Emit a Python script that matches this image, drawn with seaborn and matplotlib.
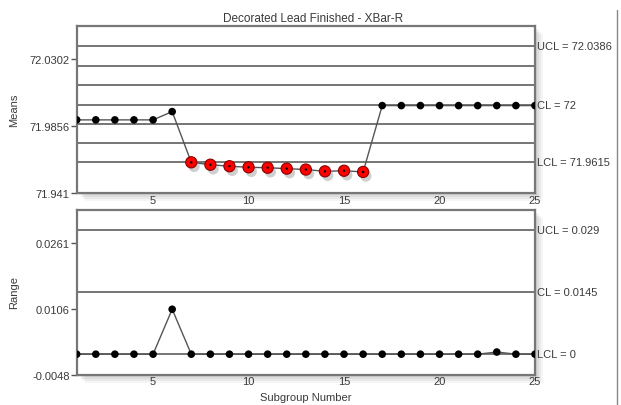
import matplotlib
matplotlib.use("Agg")
import matplotlib.pyplot as plt
import matplotlib.patheffects as pe
from matplotlib.lines import Line2D
from matplotlib.patches import Rectangle
import pandas as pd
import seaborn as sns

# subgroup means / ranges
subgroups = list(range(1, 26))
means = [71.9898, 71.9898, 71.9898, 71.9898, 71.9898, 71.9953,
         71.9616, 71.9600, 71.9590, 71.9583, 71.9580, 71.9574, 71.9568,
         71.9556, 71.9560, 71.9552,
         71.9993, 71.9993, 71.9993, 71.9993, 71.9993, 71.9993, 71.9993,
         71.9993, 71.9993]
ranges = [0.0, 0.0, 0.0, 0.0, 0.0, 0.0105, 0.0, 0.0, 0.0, 0.0, 0.0, 0.0,
          0.0, 0.0, 0.0, 0.0, 0.0, 0.0, 0.0, 0.0, 0.0, 0.0, 0.0005, 0.0, 0.0]
flagged = [False] * 6 + [True] * 10 + [False] * 9

# control / zone lines
means_lines = [72.0386, 72.0257, 72.0129, 72.0, 71.9871, 71.9743, 71.9615]
means_limit_vals = [72.0386, 72.0, 71.9615]
means_limit_labels = ["UCL = 72.0386", "CL = 72", "LCL = 71.9615"]
range_lines = [0.029, 0.0145, 0.0]
range_limit_labels = ["UCL = 0.029", "CL = 0.0145", "LCL = 0"]

means_ticks = [71.941, 71.9856, 72.0302]
means_ticklabels = ["71.941", "71.9856", "72.0302"]
range_ticks = [-0.0048, 0.0106, 0.0261]
range_ticklabels = ["-0.0048", "0.0106", "0.0261"]
x_ticks = [5, 10, 15, 20, 25]

sns.set_style("white")
plt.rcParams["font.family"] = ["Liberation Sans", "DejaVu Sans"]
TXT = "#3a3a3a"

df = pd.DataFrame({"subgroup": subgroups, "mean": means,
                   "range": ranges, "flag": flagged})

fig = plt.figure(figsize=(6.21, 4.06), dpi=100)
pos_top = [0.1235, 0.5214, 0.738, 0.4114]
pos_bot = [0.1235, 0.0746, 0.738, 0.4057]

# soft drop shadows behind the plot areas
for l, b, w, h in (pos_top, pos_bot):
    for k, a in ((8, 0.08), (6, 0.10), (4, 0.12), (2, 0.15)):
        dx, dy = k / 621, k / 406
        fig.patches.append(Rectangle((l + dx, b - dy), w, h, transform=fig.transFigure,
                                     facecolor="#808080", alpha=a, edgecolor="none", zorder=-5))

ax1 = fig.add_axes(pos_top)
ax2 = fig.add_axes(pos_bot)


def style_axes(ax, ylim, ticks, ticklabels):
    ax.set_facecolor("white")
    ax.set_xlim(1, 25)
    ax.set_ylim(*ylim)
    ax.set_xticks(x_ticks)
    ax.set_yticks(ticks)
    ax.set_yticklabels(ticklabels)
    ax.tick_params(axis="y", left=True, length=4, width=1, color="#555555",
                   labelsize=8, labelcolor=TXT, pad=1)
    ax.tick_params(axis="x", bottom=False, length=0, labelsize=8, labelcolor=TXT, pad=1)
    for s in ax.spines.values():
        s.set_color("#777777")
        s.set_linewidth(1.6)
    ax.set_xlabel("")
    ax.set_ylabel("")


shadow = [pe.SimplePatchShadow(offset=(2, -3), shadow_rgbFace="#888888", alpha=0.4), pe.Normal()]

# Means chart
for y in means_lines:
    ax1.axhline(y, color="#6a6a6a", lw=1.3, zorder=1)
sns.lineplot(data=df, x="subgroup", y="mean", estimator=None, color="#555555",
             lw=1, ax=ax1, zorder=2)
sns.scatterplot(data=df[~df["flag"]], x="subgroup", y="mean", color="black", s=30,
                edgecolor="none", ax=ax1, zorder=3)
sns.scatterplot(data=df[df["flag"]], x="subgroup", y="mean", color="#ff0000", s=65,
                edgecolor="#8a0000", linewidth=0.8, ax=ax1, zorder=4, path_effects=shadow)
sns.scatterplot(data=df[df["flag"]], x="subgroup", y="mean", color="black", s=3,
                edgecolor="none", ax=ax1, zorder=5)
style_axes(ax1, (71.941, 72.052), means_ticks, means_ticklabels)
for v, lab in zip(means_limit_vals, means_limit_labels):
    ax1.text(1.004, v, lab, transform=ax1.get_yaxis_transform(), va="center",
             ha="left", fontsize=8, color=TXT)

# Range chart
for y in range_lines:
    ax2.axhline(y, color="#6a6a6a", lw=1.3, zorder=1)
sns.lineplot(data=df, x="subgroup", y="range", estimator=None, color="#555555",
             lw=1, ax=ax2, zorder=2)
sns.scatterplot(data=df, x="subgroup", y="range", color="black", s=30,
                edgecolor="none", ax=ax2, zorder=3)
style_axes(ax2, (-0.0048, 0.0337), range_ticks, range_ticklabels)
for v, lab in zip(range_lines, range_limit_labels):
    ax2.text(1.004, v, lab, transform=ax2.get_yaxis_transform(), va="center",
             ha="left", fontsize=8, color=TXT)

fig.text(313 / 621, 1 - 19 / 406, "Decorated Lead Finished - XBar-R", ha="center",
         va="center", fontsize=8.5, color=TXT)
fig.text(14 / 621, 1 - 110 / 406, "Means", rotation=90, ha="center", va="center",
         fontsize=8, color=TXT)
fig.text(14 / 621, 1 - 293 / 406, "Range", rotation=90, ha="center", va="center",
         fontsize=8, color=TXT)
fig.text(306 / 621, 1 - 398 / 406, "Subgroup Number", ha="center", va="center",
         fontsize=8, color=TXT)

# thin frame edge at the far right of the image
fig.add_artist(Line2D([617 / 621, 617 / 621], [0, 1 - 11 / 406], transform=fig.transFigure,
                      color="#888888", lw=1))

fig.savefig("out.png", dpi=100)
plt.close(fig)
